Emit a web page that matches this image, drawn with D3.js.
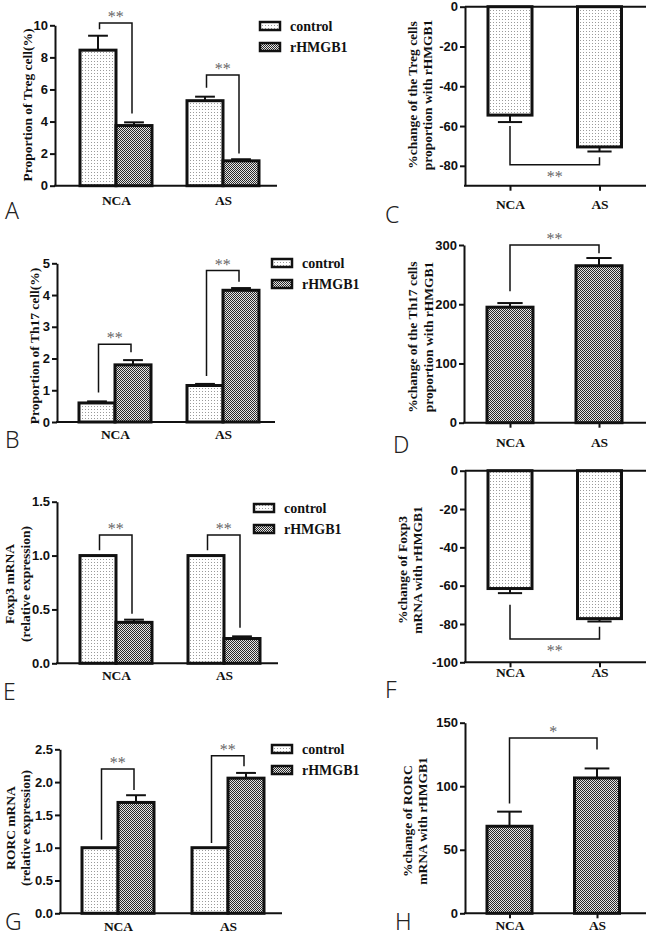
<!DOCTYPE html>
<html><head><meta charset="utf-8">
<script src="https://cdn.jsdelivr.net/npm/d3@7"></script>
<style>body{margin:0;background:#fff}svg{display:block}</style>
</head><body>
<script>
// ---------------- DATA ----------------
const categories = ["NCA", "AS"];
const seriesNames = ["control", "rHMGB1"];

// A: Treg proportion
const tregControl = [8.45, 5.3];
const tregControlErr = [0.9, 0.25];
const tregRhmgb1 = [3.75, 1.55];
const tregRhmgb1Err = [0.2, 0.1];
const tregTicks = [0, 2, 4, 6, 8, 10];
const tregBrackets = [[10.15, 9.75, 4.5], [6.9, 6.1, 2.0]]; // [top, left end, right end]

// B: Th17 proportion
const th17Control = [0.6, 1.15];
const th17ControlErr = [0.05, 0.05];
const th17Rhmgb1 = [1.8, 4.15];
const th17Rhmgb1Err = [0.15, 0.07];
const th17Ticks = [0, 1, 2, 3, 4, 5];
const th17Brackets = [[2.45, 0.93, 2.2], [4.77, 1.45, 4.42]];

// C: % change Treg
const tregChange = [-54.5, -70.5];
const tregChangeErr = [3.5, 2.3];
const tregChangeTicks = [0, -20, -40, -60, -80];
const tregChangeBracket = [-79.5, -60, -75.7]; // [bar level, left end, right end]

// D: % change Th17
const th17Change = [195, 265];
const th17ChangeErr = [7, 13];
const th17ChangeTicks = [0, 100, 200, 300];
const th17ChangeBracket = [300, 222, 286];

// E: Foxp3 mRNA
const foxp3Control = [1.0, 1.0];
const foxp3ControlErr = [0, 0];
const foxp3Rhmgb1 = [0.38, 0.23];
const foxp3Rhmgb1Err = [0.025, 0.02];
const foxp3Ticks = [0, 0.5, 1.0, 1.5];
const foxp3Brackets = [[1.19, 1.05, 0.46], [1.19, 1.05, 0.33]];

// F: % change Foxp3
const foxp3Change = [-61.5, -77.2];
const foxp3ChangeErr = [2.4, 1.5];
const foxp3ChangeTicks = [0, -20, -40, -60, -80, -100];
const foxp3ChangeBracket = [-87.8, -70, -81.4];

// G: RORC mRNA
const rorcControl = [1.0, 1.0];
const rorcControlErr = [0, 0];
const rorcRhmgb1 = [1.69, 2.06];
const rorcRhmgb1Err = [0.11, 0.08];
const rorcTicks = [0, 0.5, 1.0, 1.5, 2.0, 2.5];
const rorcBrackets = [[2.2, 1.12, 1.88], [2.4, 1.07, 2.24]];

// H: % change RORC
const rorcChange = [68.5, 106.5];
const rorcChangeErr = [11.5, 7.5];
const rorcChangeTicks = [0, 50, 100, 150];
const rorcChangeBracket = [138, 86.5, 129];

// ---------------- DRAW ----------------
const SANS = "'Liberation Sans', Arial, sans-serif";
const SERIF = "'Liberation Serif', 'Times New Roman', serif";
const svg = d3.select("body").append("svg").attr("width", 646).attr("height", 936);
const defs = svg.append("defs");
const pDot = defs.append("pattern").attr("id", "dots").attr("width", 3).attr("height", 3).attr("patternUnits", "userSpaceOnUse");
pDot.append("rect").attr("width", 3).attr("height", 3).attr("fill", "#fff");
pDot.append("rect").attr("x", 1).attr("y", 1).attr("width", 1).attr("height", 1).attr("fill", "#9a9a9a");
const pChk = defs.append("pattern").attr("id", "checks").attr("width", 2).attr("height", 2).attr("patternUnits", "userSpaceOnUse");
pChk.append("rect").attr("width", 2).attr("height", 2).attr("fill", "#e6e6e6");
pChk.append("rect").attr("width", 1).attr("height", 1).attr("fill", "#2a2a2a");
pChk.append("rect").attr("x", 1).attr("y", 1).attr("width", 1).attr("height", 1).attr("fill", "#2a2a2a");
const fills = {control: "url(#dots)", rHMGB1: "url(#checks)"};

const fmtInt = d => String(d);
const fmt1 = d => d.toFixed(1);

function yAxis(g, y, x0, ticks, fmt) {
  const ax = g.append("g").attr("transform", `translate(${x0},0)`)
    .call(d3.axisLeft(y).tickValues(ticks).tickFormat(fmt).tickSize(5).tickSizeOuter(0).tickPadding(2));
  ax.select(".domain").attr("stroke", "#111").attr("stroke-width", 2);
  ax.selectAll(".tick line").attr("stroke", "#111").attr("stroke-width", 2);
  ax.selectAll("text").attr("font-family", SANS).attr("font-weight", "bold").attr("font-size", 13).attr("fill", "#111");
}
function xAxis(g, x, yPix, x0, x1, tick, dy) {
  const ax = g.append("g").attr("transform", `translate(0,${yPix})`)
    .call(d3.axisBottom(x).tickSize(tick).tickSizeOuter(0).tickPadding(0));
  ax.select(".domain").remove();
  ax.selectAll(".tick line").attr("stroke", "#111").attr("stroke-width", 2);
  ax.selectAll("text").attr("dy", null).attr("y", dy).attr("font-family", SERIF).attr("font-weight", "bold").attr("font-size", 13.5).attr("fill", "#111");
  g.append("line").attr("x1", x0 - 1).attr("x2", x1).attr("y1", yPix).attr("y2", yPix).attr("stroke", "#111").attr("stroke-width", 2);
}
function yLabel(g, lines, xs, yc) {
  lines.forEach((t, i) => {
    g.append("text").attr("transform", `translate(${xs[i]},${yc}) rotate(-90)`)
      .attr("text-anchor", "middle").attr("dominant-baseline", "central")
      .attr("font-family", SERIF).attr("font-weight", "bold").attr("font-size", 13.5).attr("fill", "#111").text(t);
  });
}
function letter(g, t, x, y) {
  g.append("text").attr("x", x).attr("y", y).attr("font-family", "'Noto Sans', 'Open Sans', sans-serif")
    .attr("font-weight", 300).attr("font-size", 23).attr("fill", "#222").text(t);
}
function stars(g, t, x, y) {
  g.append("text").attr("x", x).attr("y", y).attr("text-anchor", "middle").attr("font-family", SERIF)
    .attr("font-size", 16).attr("fill", "#666").text(t);
}
function errBar(g, x, y, v, e, capW) {
  if (!e) return;
  const s = v >= 0 ? 1 : -1;
  g.append("line").attr("x1", x).attr("x2", x).attr("y1", y(v)).attr("y2", y(v + s * e)).attr("stroke", "#111").attr("stroke-width", 2);
  g.append("line").attr("x1", x - capW / 2).attr("x2", x + capW / 2).attr("y1", y(v + s * e)).attr("y2", y(v + s * e)).attr("stroke", "#111").attr("stroke-width", 2);
}

function groupedPanel(c) {
  const g = svg.append("g");
  const y = d3.scaleLinear().domain(c.domain).range([c.yBot, c.yTop]);
  const x = d3.scalePoint().domain(categories).range(c.centers);
  const sub = d3.scaleBand().domain(seriesNames).range([-c.bw, c.bw]);
  const series = [[c.ctrl, c.ctrlErr], [c.rh, c.rhErr]];
  xAxis(g, x, y(0), c.x0, c.x1, 0, c.labelDy);
  series.forEach(([vals, errs], si) => {
    const name = seriesNames[si];
    categories.forEach((cat, i) => {
      const bx = x(cat) + sub(name);
      errBar(g, bx + sub.bandwidth() / 2, y, vals[i], errs[i], sub.bandwidth() * 0.55);
      g.append("rect").attr("x", bx).attr("y", y(vals[i])).attr("width", sub.bandwidth()).attr("height", y(0) - y(vals[i]))
        .attr("fill", fills[name]).attr("stroke", "#111").attr("stroke-width", 3);
    });
  });
  yAxis(g, y, c.x0, c.ticks, c.fmt);
  // brackets
  categories.forEach((cat, i) => {
    const [top, le, re] = c.brackets[i];
    const xl = x(cat) + sub("control") + sub.bandwidth() / 2 + 1.5;
    const xr = x(cat) + sub("rHMGB1") + sub.bandwidth() / 2 - 2;
    g.append("path").attr("d", `M${xl},${y(le)}V${y(top)}H${xr}V${y(re)}`).attr("fill", "none").attr("stroke", "#111").attr("stroke-width", 1.5);
    stars(g, "**", (xl + xr) / 2, y(top) - 1);
  });
  // legend
  seriesNames.forEach((n, i) => {
    const ly = c.legend[1] + i * 21;
    g.append("rect").attr("x", c.legend[0]).attr("y", ly).attr("width", 20).attr("height", 8)
      .attr("fill", fills[n]).attr("stroke", "#111").attr("stroke-width", 2.5);
    g.append("text").attr("x", c.legend[0] + 30).attr("y", ly + 9).attr("font-family", SERIF).attr("font-weight", "bold")
      .attr("font-size", 14).attr("fill", "#111").text(n);
  });
  yLabel(g, c.label, c.labelX, c.labelY);
  letter(g, c.letter, c.letterPos[0], c.letterPos[1]);
}

function changePanel(c) {
  const g = svg.append("g");
  const y = d3.scaleLinear().domain(c.domain).range([c.yBot, c.yTop]);
  const x = d3.scalePoint().domain(categories).range(c.centers);
  const neg = c.domain[1] === 0;
  xAxis(g, x, c.yBot, c.x0, c.x1, 5, c.labelDy);
  if (neg) g.append("line").attr("x1", c.x0).attr("x2", c.x1).attr("y1", y(0)).attr("y2", y(0)).attr("stroke", "#111").attr("stroke-width", 2);
  categories.forEach((cat, i) => {
    const v = c.vals[i];
    errBar(g, x(cat), y, v, c.errs[i], c.bw * 0.55);
    g.append("rect").attr("x", x(cat) - c.bw / 2).attr("y", Math.min(y(0), y(v))).attr("width", c.bw)
      .attr("height", Math.abs(y(v) - y(0))).attr("fill", c.fill).attr("stroke", "#111").attr("stroke-width", 3);
  });
  yAxis(g, y, c.x0, c.ticks, fmtInt);
  const [lvl, le, re] = c.bracket;
  const xl = x(categories[0]), xr = x(categories[1]);
  g.append("path").attr("d", `M${xl},${y(le)}V${y(lvl)}H${xr}V${y(re)}`).attr("fill", "none").attr("stroke", "#111").attr("stroke-width", 1.5);
  if (neg) stars(g, c.star, (xl + xr) / 2, y(lvl) + 17);
  else stars(g, c.star, (xl + xr) / 2, y(lvl) - 1);
  yLabel(g, c.label, c.labelX, c.labelY);
  letter(g, c.letter, c.letterPos[0], c.letterPos[1]);
}

groupedPanel({ctrl: tregControl, ctrlErr: tregControlErr, rh: tregRhmgb1, rhErr: tregRhmgb1Err,
  domain: [0, 10], ticks: tregTicks, fmt: fmtInt, x0: 55, x1: 277, yBot: 185.7, yTop: 25.3, centers: [116, 223], bw: 36,
  labelDy: 19, brackets: tregBrackets, legend: [260, 22], label: ["Proportion of Treg cell(%)"], labelX: [27], labelY: 105,
  letter: "A", letterPos: [5, 219]});

groupedPanel({ctrl: th17Control, ctrlErr: th17ControlErr, rh: th17Rhmgb1, rhErr: th17Rhmgb1Err,
  domain: [0, 5], ticks: th17Ticks, fmt: fmtInt, x0: 57, x1: 275, yBot: 422, yTop: 263.3, centers: [115, 223], bw: 36,
  labelDy: 17, brackets: th17Brackets, legend: [272, 259], label: ["Proportion of Th17 cell(%)"], labelX: [34], labelY: 346,
  letter: "B", letterPos: [5, 448]});

groupedPanel({ctrl: foxp3Control, ctrlErr: foxp3ControlErr, rh: foxp3Rhmgb1, rhErr: foxp3Rhmgb1Err,
  domain: [0, 1.5], ticks: foxp3Ticks, fmt: fmt1, x0: 57, x1: 278, yBot: 663.3, yTop: 501.7, centers: [116, 224], bw: 36,
  labelDy: 17, brackets: foxp3Brackets, legend: [254, 504], label: ["Foxp3 mRNA", "(relative expression)"], labelX: [9, 25], labelY: 584,
  letter: "E", letterPos: [3, 700]});

groupedPanel({ctrl: rorcControl, ctrlErr: rorcControlErr, rh: rorcRhmgb1, rhErr: rorcRhmgb1Err,
  domain: [0, 2.5], ticks: rorcTicks, fmt: fmt1, x0: 60, x1: 282, yBot: 913.3, yTop: 749.3, centers: [118, 228], bw: 36,
  labelDy: 18, brackets: rorcBrackets, legend: [272, 745], label: ["RORC mRNA", "(relative expression)"], labelX: [10, 25], labelY: 828,
  letter: "G", letterPos: [5, 930]});

changePanel({vals: tregChange, errs: tregChangeErr, domain: [-90, 0], ticks: tregChangeTicks, fill: fills.control,
  x0: 465, x1: 646, yBot: 185.7, yTop: 6.7, centers: [510, 599.5], bw: 44, labelDy: 23, bracket: tregChangeBracket, star: "**",
  label: ["%change of the Treg cells", "proportion with rHMGB1"], labelX: [412, 427], labelY: 95, letter: "C", letterPos: [385, 223]});

changePanel({vals: th17Change, errs: th17ChangeErr, domain: [0, 300], ticks: th17ChangeTicks, fill: fills.rHMGB1,
  x0: 464, x1: 646, yBot: 422.7, yTop: 245, centers: [510, 599], bw: 46, labelDy: 24, bracket: th17ChangeBracket, star: "**",
  label: ["%change of the Th17 cells", "proportion with rHMGB1"], labelX: [412, 428], labelY: 337, letter: "D", letterPos: [393, 453]});

changePanel({vals: foxp3Change, errs: foxp3ChangeErr, domain: [-100, 0], ticks: foxp3ChangeTicks, fill: fills.control,
  x0: 465, x1: 646, yBot: 662.3, yTop: 470.7, centers: [510, 599.5], bw: 44, labelDy: 15, bracket: foxp3ChangeBracket, star: "**",
  label: ["%change of Foxp3", "mRNA with rHMGB1"], labelX: [402, 417], labelY: 570, letter: "F", letterPos: [385, 698]});

changePanel({vals: rorcChange, errs: rorcChangeErr, domain: [0, 150], ticks: rorcChangeTicks, fill: fills.rHMGB1,
  x0: 465, x1: 646, yBot: 913.3, yTop: 722.7, centers: [509.5, 597], bw: 45, labelDy: 17, bracket: rorcChangeBracket, star: "*",
  label: ["%change of RORC", "mRNA with rHMGB1"], labelX: [407, 422], labelY: 821, letter: "H", letterPos: [395, 930]});
</script>
</body></html>
